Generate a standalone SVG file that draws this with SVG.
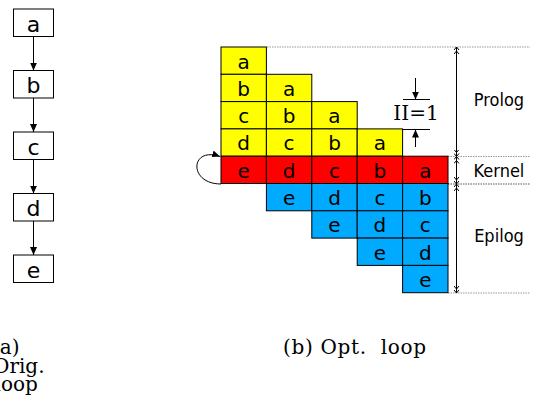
<svg xmlns="http://www.w3.org/2000/svg" width="536" height="401" viewBox="0 0 536 401">
  <style>
    .box { fill: #ffffff; stroke: #000000; stroke-width: 1; }
    .cell { stroke: #000000; stroke-width: 1; }
    .pro { fill: #ffff00; }
    .ker { fill: #ff0000; }
    .epi { fill: #00aaff; }
    .lbl { font-family: "DejaVu Sans", sans-serif; font-size: 20px; fill: #000000; text-anchor: middle; }
    .big { font-size: 22px; }
    .side { font-family: "DejaVu Sans Condensed", "DejaVu Sans", sans-serif; font-size: 18px; fill: #000000; text-anchor: middle; }
    .cap { font-family: "DejaVu Serif", "Liberation Serif", serif; font-size: 20px; fill: #000000; }
    .edge { stroke: #000000; stroke-width: 1; fill: none; }
    .dot { stroke: #999999; stroke-width: 1; stroke-dasharray: 1.5 1; fill: none; }
    .dotdark { stroke: #555555; stroke-width: 1; stroke-dasharray: 1.5 1; fill: none; }
    .span { stroke: #000000; stroke-width: 1; fill: none; marker-start: url(#chev); marker-end: url(#chev); }
  </style>
  <defs>
    <marker id="tri" viewBox="0 0 8 7" refX="8" refY="3.5" markerWidth="8" markerHeight="7" markerUnits="userSpaceOnUse" orient="auto">
      <path d="M0,0 L8,3.5 L0,7 z" fill="#000000"/>
    </marker>
    <marker id="chev" viewBox="0 0 7 6" refX="7" refY="3" markerWidth="7" markerHeight="6" markerUnits="userSpaceOnUse" orient="auto-start-reverse">
      <path d="M0,0.5 L3,3 L0,5.5 M4,0.5 L7,3 L4,5.5" fill="none" stroke="#000000" stroke-width="1"/>
    </marker>
  </defs>

  <!-- original loop body: a -> b -> c -> d -> e -->
  <g id="node-a"><rect class="box" x="13.5" y="9" width="40" height="27.5"/><text class="lbl big" x="33.5" y="31.5">a</text></g>
  <g id="node-b"><rect class="box" x="13.5" y="70.5" width="40" height="27.5"/><text class="lbl big" x="33.5" y="93">b</text></g>
  <g id="node-c"><rect class="box" x="13.5" y="132" width="40" height="27.5"/><text class="lbl big" x="33.5" y="154.5">c</text></g>
  <g id="node-d"><rect class="box" x="13.5" y="193.5" width="40" height="27.5"/><text class="lbl big" x="33.5" y="216">d</text></g>
  <g id="node-e"><rect class="box" x="13.5" y="255" width="40" height="27.5"/><text class="lbl big" x="33.5" y="277.5">e</text></g>

  <g id="connectors">
    <line class="edge" x1="33.5" y1="36.5" x2="33.5" y2="70.5" marker-end="url(#tri)"/>
    <line class="edge" x1="33.5" y1="98" x2="33.5" y2="132" marker-end="url(#tri)"/>
    <line class="edge" x1="33.5" y1="159.5" x2="33.5" y2="193.5" marker-end="url(#tri)"/>
    <line class="edge" x1="33.5" y1="221" x2="33.5" y2="255" marker-end="url(#tri)"/>
    <!-- kernel back edge -->
    <path class="edge" d="M221,184 C188,184 190,146 220,156.5" marker-end="url(#tri)"/>
    <!-- II=1 interval marks -->
    <line class="edge" x1="403" y1="99.5" x2="430" y2="99.5"/>
    <line class="edge" x1="403" y1="129.5" x2="430" y2="129.5"/>
    <line class="edge" x1="415.5" y1="78" x2="415.5" y2="99.5" marker-end="url(#tri)"/>
    <line class="edge" x1="415.5" y1="147" x2="415.5" y2="129.5" marker-end="url(#tri)"/>
    <!-- stage boundaries -->
    <line class="dot" x1="267" y1="47" x2="530" y2="47"/>
    <line class="dot" x1="448" y1="156.5" x2="530" y2="156.5"/>
    <line class="dotdark" x1="448" y1="184" x2="530" y2="184"/>
    <line class="dot" x1="448" y1="293" x2="530" y2="293"/>
    <line class="span" x1="456.5" y1="47" x2="456.5" y2="156.5"/>
    <line class="span" x1="456.5" y1="156.5" x2="456.5" y2="184"/>
    <line class="span" x1="456.5" y1="184" x2="456.5" y2="293"/>
  </g>

  <!-- software-pipelined schedule: column j holds iteration j, rows are cycles -->
  <g id="iter-0">
    <rect class="cell pro" x="221" y="47" width="45.4" height="27.3"/><text class="lbl" x="243.7" y="68.5">a</text>
    <rect class="cell pro" x="221" y="74.3" width="45.4" height="27.3"/><text class="lbl" x="243.7" y="95.8">b</text>
    <rect class="cell pro" x="221" y="101.6" width="45.4" height="27.3"/><text class="lbl" x="243.7" y="123.1">c</text>
    <rect class="cell pro" x="221" y="128.9" width="45.4" height="27.3"/><text class="lbl" x="243.7" y="150.4">d</text>
    <rect class="cell ker" x="221" y="156.2" width="45.4" height="27.3"/><text class="lbl" x="243.7" y="177.7">e</text>
  </g>
  <g id="iter-1">
    <rect class="cell pro" x="266.4" y="74.3" width="45.4" height="27.3"/><text class="lbl" x="289.1" y="95.8">a</text>
    <rect class="cell pro" x="266.4" y="101.6" width="45.4" height="27.3"/><text class="lbl" x="289.1" y="123.1">b</text>
    <rect class="cell pro" x="266.4" y="128.9" width="45.4" height="27.3"/><text class="lbl" x="289.1" y="150.4">c</text>
    <rect class="cell ker" x="266.4" y="156.2" width="45.4" height="27.3"/><text class="lbl" x="289.1" y="177.7">d</text>
    <rect class="cell epi" x="266.4" y="183.5" width="45.4" height="27.3"/><text class="lbl" x="289.1" y="205">e</text>
  </g>
  <g id="iter-2">
    <rect class="cell pro" x="311.8" y="101.6" width="45.4" height="27.3"/><text class="lbl" x="334.5" y="123.1">a</text>
    <rect class="cell pro" x="311.8" y="128.9" width="45.4" height="27.3"/><text class="lbl" x="334.5" y="150.4">b</text>
    <rect class="cell ker" x="311.8" y="156.2" width="45.4" height="27.3"/><text class="lbl" x="334.5" y="177.7">c</text>
    <rect class="cell epi" x="311.8" y="183.5" width="45.4" height="27.3"/><text class="lbl" x="334.5" y="205">d</text>
    <rect class="cell epi" x="311.8" y="210.8" width="45.4" height="27.3"/><text class="lbl" x="334.5" y="232.3">e</text>
  </g>
  <g id="iter-3">
    <rect class="cell pro" x="357.2" y="128.9" width="45.4" height="27.3"/><text class="lbl" x="379.9" y="150.4">a</text>
    <rect class="cell ker" x="357.2" y="156.2" width="45.4" height="27.3"/><text class="lbl" x="379.9" y="177.7">b</text>
    <rect class="cell epi" x="357.2" y="183.5" width="45.4" height="27.3"/><text class="lbl" x="379.9" y="205">c</text>
    <rect class="cell epi" x="357.2" y="210.8" width="45.4" height="27.3"/><text class="lbl" x="379.9" y="232.3">d</text>
    <rect class="cell epi" x="357.2" y="238.1" width="45.4" height="27.3"/><text class="lbl" x="379.9" y="259.6">e</text>
  </g>
  <g id="iter-4">
    <rect class="cell ker" x="402.6" y="156.2" width="45.4" height="27.3"/><text class="lbl" x="425.3" y="177.7">a</text>
    <rect class="cell epi" x="402.6" y="183.5" width="45.4" height="27.3"/><text class="lbl" x="425.3" y="205">b</text>
    <rect class="cell epi" x="402.6" y="210.8" width="45.4" height="27.3"/><text class="lbl" x="425.3" y="232.3">c</text>
    <rect class="cell epi" x="402.6" y="238.1" width="45.4" height="27.3"/><text class="lbl" x="425.3" y="259.6">d</text>
    <rect class="cell epi" x="402.6" y="265.4" width="45.4" height="27.3"/><text class="lbl" x="425.3" y="286.9">e</text>
  </g>

  <g id="labels">
    <text class="cap" x="416" y="120" text-anchor="middle" font-size="16">II=1</text>
    <text class="side" x="499" y="106">Prolog</text>
    <text class="side" x="499" y="176.5">Kernel</text>
    <text class="side" x="499" y="242">Epilog</text>
  </g>

  <g id="captions">
    <text class="cap" x="-8" y="354">(a)</text>
    <text class="cap" x="-7" y="372.5">Orig.</text>
    <text class="cap" x="-5.5" y="391">loop</text>
    <text class="cap" x="283" y="354" xml:space="preserve" textLength="143" lengthAdjust="spacing">(b) Opt.  loop</text>
  </g>
</svg>
